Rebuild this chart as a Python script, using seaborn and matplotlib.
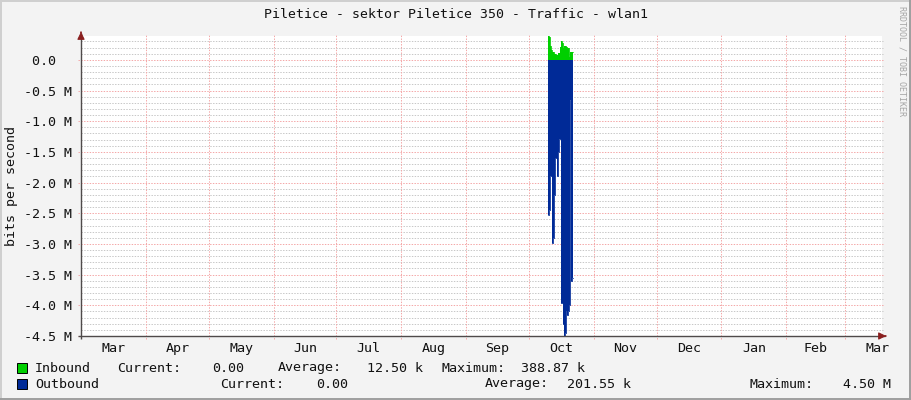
import numpy as np
import matplotlib
matplotlib.use("Agg")
import matplotlib.pyplot as plt
import seaborn as sns

# ---------------- data ----------------
month_labels = ["Mar", "Apr", "May", "Jun", "Jul", "Aug", "Sep", "Oct",
                "Nov", "Dec", "Jan", "Feb", "Mar"]
# day offsets (from 1 Mar) of each month start
month_starts = [0, 31, 61, 92, 122, 153, 184, 214, 245, 275, 306, 337, 365]
x_end_day = 382.7

# sample times (day offset from 1 Mar) of the October burst
sample_days = [223.13, 223.60, 224.08, 224.56, 225.04, 225.51, 225.99, 226.47,
               226.95, 227.42, 227.90, 228.38, 228.86, 229.34, 229.81, 230.29,
               230.77, 231.25, 231.72, 232.20, 232.68, 233.16, 233.64, 234.11,
               234.59]
sample_end_day = 235.07

inbound_k = [388.87, 370, 230, 160, 135, 135, 100, 100, 80, 80, 110, 110, 210,
             300, 280, 200, 230, 220, 210, 200, 200, 50, 120, 135, 135]
outbound_M = [2.53, 2.45, 1.89, 1.89, 2.98, 2.90, 2.20, 1.60, 1.60, 1.90, 1.50,
              1.29, 1.29, 3.97, 3.97, 4.30, 4.50, 4.45, 4.10, 4.15, 4.10, 4.00,
              0.65, 3.60, 3.55]

y_ticks = [0.0, -0.5e6, -1.0e6, -1.5e6, -2.0e6, -2.5e6, -3.0e6, -3.5e6, -4.0e6, -4.5e6]
y_tick_labels = ["0.0  ", "-0.5 M", "-1.0 M", "-1.5 M", "-2.0 M", "-2.5 M",
                 "-3.0 M", "-3.5 M", "-4.0 M", "-4.5 M"]
y_top = 388870.0
y_bottom = -4.5e6

title = "Piletice - sektor Piletice 350 - Traffic - wlan1"
y_label = "bits per second"
legend_rows = [
    ("Inbound", "#00CF00", [("Current:", 117), ("0.00", 212), ("Average:", 278),
                            ("12.50 k", 367), ("Maximum:", 441), ("388.87 k", 521)]),
    ("Outbound", "#002A97", [("Current:", 220), ("0.00", 316), ("Average:", 485),
                             ("201.55 k", 567), ("Maximum:", 749), ("4.50 M", 843)]),
]

# ---------------- styling ----------------
sns.set_style("white")
plt.rcParams["font.family"] = ["DejaVu Sans Mono", "DejaVu Sans"]
FS = 9.6
FS_T = 9.5
W, H = 911, 400
green = "#00CF00"
blue = "#002A97"
axis_col = "#4F4A4A"
arrow_col = "#8A1F1F"
minor_col = "#C8C8C8"
major_col = "#F4A8A8"

fig = plt.figure(figsize=(W / 100, H / 100), dpi=100)
fig.patch.set_facecolor("#F3F3F3")

L, R, T, B = 81, 882, 36, 336
ax = fig.add_axes([L / W, 1 - B / H, (R - L) / W, (B - T) / H])
ax.set_facecolor("white")
ax.set_xlim(0, x_end_day)
ax.set_ylim(y_bottom, y_top)
for s in ax.spines.values():
    s.set_visible(False)

px_x = x_end_day / (R - L)          # days per pixel
px_y = (y_top - y_bottom) / (B - T)  # bits per pixel
dot = (0, (1.4, 1.4))

# minor horizontal grid every 0.1 M
for v in np.arange(-45, 4) * 1e5:
    if round(v / 1e5) % 5 != 0:
        ax.plot([0, x_end_day + 1 * px_x], [v, v], color=minor_col, lw=0.72,
                ls=dot, clip_on=False, zorder=1)
# major horizontal grid
for v in y_ticks:
    ax.plot([-3 * px_x, x_end_day + 1 * px_x], [v, v], color=major_col, lw=0.72,
            ls=dot, clip_on=False, zorder=1)
# vertical month grid
for d in month_starts[1:]:
    ax.plot([d, d], [y_bottom - 3 * px_y, y_top + 2 * px_y], color=major_col,
            lw=0.72, ls=dot, clip_on=False, zorder=1)

# ---------------- data marks ----------------
t = np.append(sample_days, sample_end_day)
inb = np.array(inbound_k) * 1e3
outb = -np.array(outbound_M) * 1e6
inb_s = np.append(inb, inb[-1])
outb_s = np.append(outb, outb[-1])

ax.fill_between(t, 0, inb_s, step="post", color=green, lw=0, zorder=3)
ax.fill_between(t, 0, outb_s, step="post", color=blue, lw=0, zorder=4)
sns.lineplot(x=t, y=inb_s, drawstyle="steps-post", color=green, lw=0.6,
             ax=ax, zorder=3, legend=False)
sns.lineplot(x=t, y=outb_s, drawstyle="steps-post", color=blue, lw=0.6,
             ax=ax, zorder=4, legend=False)

# ---------------- axes & arrows ----------------
ax.plot([-3 * px_x, x_end_day + 3 * px_x], [y_bottom, y_bottom], color=axis_col,
        lw=1.0, clip_on=False, zorder=6, solid_capstyle="butt")
ax.plot([0, 0], [y_bottom - 3 * px_y, y_top + 3 * px_y], color=axis_col,
        lw=1.0, clip_on=False, zorder=6, solid_capstyle="butt")
ax.annotate("", xy=(x_end_day + 7 * px_x, y_bottom),
            xytext=(x_end_day + 1 * px_x, y_bottom),
            arrowprops=dict(arrowstyle="-|>,head_length=0.45,head_width=0.22",
                            color=arrow_col, lw=0.8), annotation_clip=False, zorder=7)
ax.annotate("", xy=(0, y_top + 7 * px_y), xytext=(0, y_top + 1 * px_y),
            arrowprops=dict(arrowstyle="-|>,head_length=0.45,head_width=0.22",
                            color=arrow_col, lw=0.8), annotation_clip=False, zorder=7)

# ticks
ax.set_yticks(y_ticks)
ax.set_yticklabels(y_tick_labels, fontsize=FS, color="#111111")
mids = [(month_starts[i] + (month_starts[i + 1] if i + 1 < len(month_starts) else month_starts[i] + 31)) / 2
        for i in range(len(month_starts))]
ax.set_xticks(mids)
ax.set_xticklabels(month_labels, fontsize=FS, color="#111111")
ax.tick_params(axis="both", length=0)
ax.tick_params(axis="x", pad=4)
ax.tick_params(axis="y", pad=6.3)

# ---------------- texts ----------------
fig.text(455.5 / W, 1 - 14 / H, title, ha="center", va="center", fontsize=FS_T,
         color="#111111")
fig.text(12 / W, 1 - 186 / H, y_label, ha="center", va="center", rotation=90,
         fontsize=FS, color="#111111")
fig.text(902 / W, 1 - 6 / H, "RRDTOOL / TOBI OETIKER", ha="center", va="top",
         rotation=270, fontsize=6.0, color="#A5A5A5")

row_y = [368, 384]
for (name, col, items), yy in zip(legend_rows, row_y):
    fig.patches.append(plt.Rectangle(((17) / W, 1 - (yy + 5) / H), 10 / W, 10 / H,
                                     transform=fig.transFigure, facecolor=col,
                                     edgecolor="#000000", lw=0.7))
    fig.text(35 / W, 1 - yy / H, name, ha="left", va="center", fontsize=FS,
             color="#111111")
    for txt, xx in items:
        fig.text(xx / W, 1 - yy / H, txt, ha="left", va="center", fontsize=FS,
                 color="#111111")

# frame around canvas
fig.add_artist(plt.Line2D([0, 1], [1 - 1 / H, 1 - 1 / H], transform=fig.transFigure,
                          color="#CFCFCF", lw=1.4))
fig.add_artist(plt.Line2D([1 / W, 1 / W], [0, 1], transform=fig.transFigure,
                          color="#CFCFCF", lw=1.4))
fig.add_artist(plt.Line2D([0, 1], [1 / H, 1 / H], transform=fig.transFigure,
                          color="#9E9E9E", lw=1.4))
fig.add_artist(plt.Line2D([1 - 1 / W, 1 - 1 / W], [0, 1], transform=fig.transFigure,
                          color="#9E9E9E", lw=1.4))

fig.savefig("out.png", dpi=100, facecolor=fig.get_facecolor())
